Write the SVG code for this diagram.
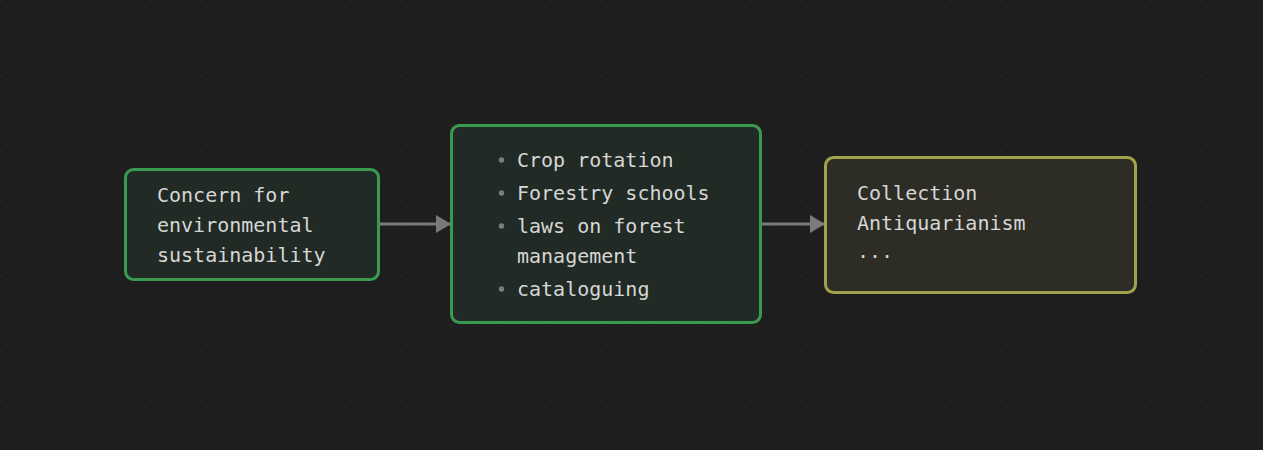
<svg xmlns="http://www.w3.org/2000/svg" width="1263" height="450" viewBox="0 0 1263 450">
<defs>
<pattern id="grid" x="0" y="0" width="25" height="25" patternUnits="userSpaceOnUse">
<rect x="0" y="0" width="1.5" height="1.5" fill="#2b2b2b"/>
</pattern>
<marker id="arr" markerWidth="16" markerHeight="18" refX="14" refY="9" orient="auto" markerUnits="userSpaceOnUse">
<path d="M0,0 L15,9 L0,18 Z" fill="#7a7a7a"/>
</marker>
<style>
.t{font-family:"DejaVu Sans Mono","Liberation Mono",monospace;font-size:20px;fill:#d6d6d6}
.g{fill:#212a24;stroke:#3a9a50;stroke-width:3}
.y{fill:#2d2d26;stroke:#a3a24c;stroke-width:3}
.b{fill:#7d7d7d}
.c{stroke:#7a7a7a;stroke-width:3;fill:none}
</style>
</defs>
<rect width="1263" height="450" fill="#1e1e1e"/>
<rect width="1263" height="450" fill="url(#grid)"/>
<g id="connectors">
<path class="c" d="M380,224 L450,224" marker-end="url(#arr)"/>
<path class="c" d="M762,224 L824,224" marker-end="url(#arr)"/>
</g>
<g id="node1">
<rect class="g" x="125.5" y="169.5" width="253" height="110" rx="8"/>
<text class="t" x="157" y="202">Concern for</text>
<text class="t" x="157" y="232">environmental</text>
<text class="t" x="157" y="262">sustainability</text>
</g>
<g id="node2">
<rect class="g" x="451.5" y="125.5" width="309" height="197" rx="8"/>
<circle class="b" cx="501.5" cy="160" r="2.7"/>
<circle class="b" cx="501.5" cy="193" r="2.7"/>
<circle class="b" cx="501.5" cy="226" r="2.7"/>
<circle class="b" cx="501.5" cy="289" r="2.7"/>
<text class="t" x="517" y="167">Crop rotation</text>
<text class="t" x="517" y="200">Forestry schools</text>
<text class="t" x="517" y="233">laws on forest</text>
<text class="t" x="517" y="263">management</text>
<text class="t" x="517" y="296">cataloguing</text>
</g>
<g id="node3">
<rect class="y" x="825.5" y="157.5" width="310" height="135" rx="8"/>
<text class="t" x="857" y="200">Collection</text>
<text class="t" x="857" y="230">Antiquarianism</text>
<text class="t" x="857" y="258">...</text>
</g>
</svg>
